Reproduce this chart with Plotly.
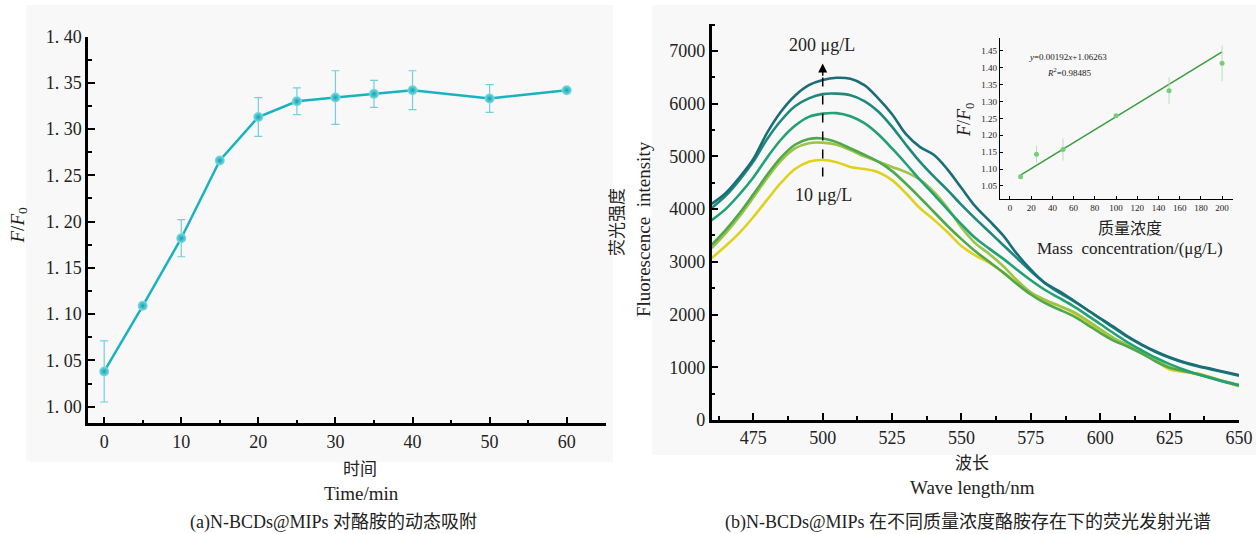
import plotly.graph_objects as go

W, H = 1256, 534

# ---------- data: panel (a) ----------
time_min = [0, 5, 10, 15, 20, 25, 30, 35, 40, 50, 60]
ratio_a = [1.038, 1.109, 1.182, 1.266, 1.313, 1.330, 1.334, 1.338, 1.342, 1.333, 1.342]
err_a = [0.033, 0.0, 0.020, 0.0, 0.021, 0.0145, 0.029, 0.0145, 0.021, 0.015, 0.002]
ytick_a_vals = [1.00, 1.05, 1.10, 1.15, 1.20, 1.25, 1.30, 1.35, 1.40]
ytick_a_text = ["1. 00", "1. 05", "1. 10", "1. 15", "1. 20", "1. 25", "1. 30", "1. 35", "1. 40"]
xtick_a_vals = [0, 10, 20, 30, 40, 50, 60]

# ---------- data: panel (b) spectra ----------
wavelength = [460, 465, 470, 475, 480, 485, 490, 495, 500, 505, 510, 515, 520, 525, 530,
              535, 540, 545, 550, 555, 560, 565, 570, 575, 580, 585, 590, 595, 600, 605,
              610, 615, 620, 625, 630, 635, 640, 645, 650]
spec_10 = [3070, 3300, 3550, 3850, 4180, 4500, 4760, 4900, 4930, 4890, 4800, 4760, 4700, 4550, 4300,
           4020, 3800, 3560, 3300, 3120, 2980, 2800, 2600, 2400, 2260, 2170, 2040, 1870, 1680, 1520,
           1400, 1280, 1120, 960, 910, 880, 810, 720, 640]
spec_25 = [3260, 3540, 3860, 4220, 4590, 4920, 5150, 5250, 5260, 5220, 5120, 5000, 4900, 4800, 4700,
           4560, 4330, 4020, 3650, 3350, 3150, 2920, 2650, 2420, 2280, 2170, 2060, 1900, 1720, 1550,
           1420, 1280, 1130, 1000, 930, 870, 800, 720, 650]
spec_50 = [3320, 3600, 3920, 4280, 4650, 4980, 5220, 5330, 5340, 5270, 5150, 5030, 4900, 4720, 4480,
           4220, 3950, 3680, 3430, 3200, 3000, 2800, 2580, 2380, 2220, 2100, 1980, 1820, 1650, 1500,
           1390, 1260, 1110, 990, 930, 870, 800, 730, 660]
spec_100 = [3790, 4000, 4280, 4600, 4980, 5320, 5580, 5750, 5810, 5820, 5760, 5630, 5420, 5150, 4860,
            4560, 4280, 3990, 3710, 3450, 3250, 3060, 2850, 2650, 2470, 2320, 2170, 2000, 1820, 1640,
            1470, 1320, 1180, 1060, 960, 870, 790, 720, 660]
spec_150 = [4020, 4250, 4550, 4900, 5330, 5680, 5950, 6100, 6180, 6190, 6160, 6050, 5850, 5560, 5220,
            4900, 4620, 4360, 4080, 3820, 3570, 3320, 3070, 2820, 2600, 2420, 2270, 2100, 1920, 1740,
            1570, 1420, 1290, 1180, 1090, 1020, 960, 900, 840]
spec_200 = [4100, 4300, 4600, 4950, 5450, 5850, 6150, 6350, 6450, 6490, 6470, 6350, 6100, 5800, 5420,
            5180, 5030, 4750, 4400, 4050, 3780, 3500, 3150, 2850, 2600, 2450, 2280, 2100, 1930, 1760,
            1580, 1430, 1300, 1190, 1100, 1030, 970, 910, 850]
spectra = [spec_10, spec_25, spec_50, spec_100, spec_150, spec_200]
spec_names = ["10 μg/L", "25 μg/L", "50 μg/L", "100 μg/L", "150 μg/L", "200 μg/L"]
spec_colors = ["#ded21e", "#9cc445", "#4fa94c", "#22a078", "#1d8a7c", "#1b6e78"]
ytick_b_vals = [0, 1000, 2000, 3000, 4000, 5000, 6000, 7000]
xtick_b_vals = [475, 500, 525, 550, 575, 600, 625, 650]

# ---------- data: inset ----------
conc = [10, 25, 50, 100, 150, 200]
ratio_in = [1.077, 1.144, 1.158, 1.258, 1.332, 1.413]
err_in = [0.005, 0.025, 0.033, 0.005, 0.040, 0.053]
fit_slope, fit_intercept = 0.00192, 1.06263
fit_x = [10, 200]
ytick_in_vals = [1.05, 1.10, 1.15, 1.20, 1.25, 1.30, 1.35, 1.40, 1.45]
xtick_in_vals = [0, 20, 40, 60, 80, 100, 120, 140, 160, 180, 200]

SERIF = "Liberation Serif, Times New Roman, serif"
MIXED = "Liberation Serif, Noto Sans CJK SC, serif"
CJK = "Noto Sans CJK SC"
BG = "#f8f8f8"


def px(x):
    return x / W


def py(y):
    return 1 - y / H


fig = go.Figure()

# panel (a)
fig.add_trace(go.Scatter(
    x=time_min, y=ratio_a, mode="lines+markers",
    line=dict(color="#19b3bf", width=2.5),
    marker=dict(size=10, color="#7fdde4",
                gradient=dict(type="radial", color="#0fa3b0"),
                line=dict(width=0)),
    error_y=dict(type="data", array=err_a, color="#72d0d8", thickness=1.2, width=4),
    xaxis="x", yaxis="y", showlegend=False))

# panel (b) spectra
for vals, name, col in zip(spectra, spec_names, spec_colors):
    fig.add_trace(go.Scatter(
        x=wavelength, y=vals, mode="lines", name=name,
        line=dict(color=col, width=2.6, shape="spline", smoothing=1.0),
        xaxis="x2", yaxis="y2", showlegend=False))

# inset
fit_y = [fit_slope * v + fit_intercept for v in fit_x]
fig.add_trace(go.Scatter(
    x=fit_x, y=fit_y, mode="lines", line=dict(color="#3a9c3e", width=1.5),
    xaxis="x3", yaxis="y3", showlegend=False))
fig.add_trace(go.Scatter(
    x=conc, y=ratio_in, mode="markers",
    marker=dict(size=5, color="#78cc78"),
    error_y=dict(type="data", array=err_in, color="#b2e3b2", thickness=1, width=0),
    xaxis="x3", yaxis="y3", showlegend=False))

axis_common = dict(showgrid=False, zeroline=False, showline=True, linecolor="black",
                   linewidth=2.5, ticks="inside", tickcolor="black", tickwidth=2,
                   ticklen=7, automargin=False,
                   tickfont=dict(family=SERIF, size=18, color="#222"))
inset_common = dict(showgrid=False, zeroline=False, showline=True, linecolor="black", linewidth=1.2,
                    ticks="inside", ticklen=3, tickwidth=1, tickcolor="black", automargin=False,
                    tickfont=dict(family=SERIF, size=9, color="#222"))

fig.update_layout(
    width=W, height=H, margin=dict(l=0, r=0, t=0, b=0, pad=0, autoexpand=False),
    paper_bgcolor=BG, plot_bgcolor="rgba(0,0,0,0)",
    xaxis=dict(axis_common, domain=[px(88), px(606)], range=[-2.1, 65.1],
               tickvals=xtick_a_vals, anchor="y",
               minor=dict(ticks="inside", dtick=5, tick0=0, ticklen=4, tickwidth=2, tickcolor="black")),
    yaxis=dict(axis_common, domain=[py(423.3), py(36.5)], range=[0.982, 1.40],
               tickvals=ytick_a_vals, ticktext=ytick_a_text, anchor="x",
               minor=dict(ticks="inside", dtick=0.025, tick0=1.0, ticklen=4, tickwidth=2, tickcolor="black")),
    xaxis2=dict(axis_common, domain=[px(711.7), px(1239)], range=[460, 650],
                tickvals=xtick_b_vals, anchor="y2",
                minor=dict(ticks="inside", dtick=12.5, tick0=462.5, ticklen=4, tickwidth=2, tickcolor="black")),
    yaxis2=dict(axis_common, domain=[py(420), py(23.5)], range=[0, 7520],
                tickvals=ytick_b_vals, anchor="x2",
                minor=dict(ticks="inside", dtick=500, tick0=0, ticklen=4, tickwidth=2, tickcolor="black")),
    xaxis3=dict(inset_common, domain=[px(1000), px(1232.7)], range=[-9.4, 210], anchor="y3",
                tickvals=xtick_in_vals),
    yaxis3=dict(inset_common, domain=[py(199.3), py(38.3)], range=[1.0106, 1.487], anchor="x3",
                tickvals=ytick_in_vals, tickformat=".2f"),
)

# white areas around the two grey panels (paper is grey)
white_rects = [(0, 26, 0, 534), (613, 652, 0, 534), (0, 1256, 0, 5),
               (0, 652, 462, 534), (652, 1256, 455, 534)]
for x0, x1, y0, y1 in white_rects:
    fig.add_shape(type="rect", xref="paper", yref="paper", x0=px(x0), x1=px(x1),
                  y0=py(y1), y1=py(y0), fillcolor="white", line=dict(width=0), layer="below")

# dashed arrow in panel (b)
fig.add_shape(type="line", xref="x2", yref="y2", x0=500, x1=500, y0=4620, y1=6560,
              line=dict(color="black", width=1.5, dash="dash"))
fig.add_annotation(x=500, y=6760, ax=500, ay=6500, xref="x2", yref="y2", axref="x2", ayref="y2",
                   text="", showarrow=True, arrowhead=2, arrowsize=1.2, arrowwidth=1.5, arrowcolor="black")


def note(text, x, y, size=17, family=SERIF, angle=0, color="#222"):
    fig.add_annotation(text=text, x=px(x), y=py(y), xref="paper", yref="paper",
                       showarrow=False, textangle=angle, xanchor="center", yanchor="middle",
                       font=dict(family=family, size=size, color=color))


note("200 μg/L", 822, 44.5, size=18)
note("10 μg/L", 823, 195, size=18)

# panel (a) titles
note("<i>F</i>/<i>F</i><sub>0</sub>", 18.5, 225, size=19, angle=-90)
note("时间", 360, 467, size=17, family=CJK)
note("Time/min", 361, 493, size=19)
note("(a)N-BCDs@MIPs 对酪胺的动态吸附", 333, 522, size=18, family=MIXED)

# panel (b) titles
note("荧光强度", 615, 222, size=17, family=CJK, angle=-90)
note("Fluorescence  intensity", 643, 229, size=19, angle=-90)
note("波长", 972, 461, size=17, family=CJK)
note("Wave length/nm", 972, 487, size=19)
note("(b)N-BCDs@MIPs 在不同质量浓度酪胺存在下的荧光发射光谱", 968, 522, size=18, family=MIXED)

# inset titles
note("<i>F</i>/<i>F</i><sub>0</sub>", 965, 120, size=18, angle=-90)
note("质量浓度", 1130, 227, size=16, family=CJK)
note("Mass  concentration/(μg/L)", 1130, 248, size=17)
note("<i>y</i>=0.00192<i>x</i>+1.06263", 1068, 57, size=9)
note("<i>R</i><sup>2</sup>=0.98485", 1069, 72, size=9)

fig.write_html("out.html", config={"displayModeBar": False},
               post_script="document.body.style.margin='0';document.body.style.overflow='hidden';")
